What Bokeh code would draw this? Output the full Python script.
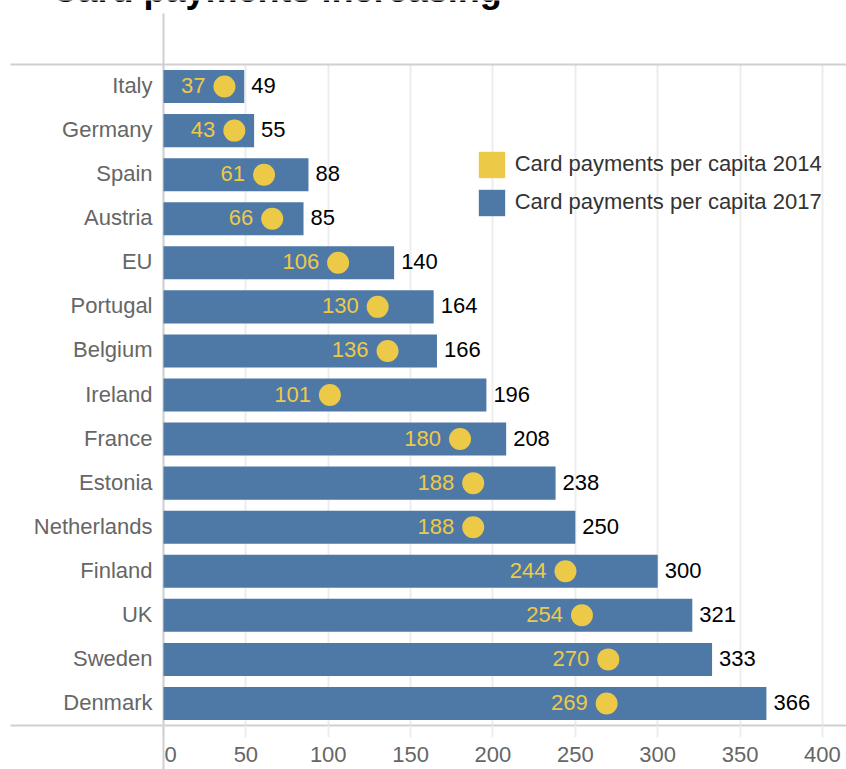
from bokeh.plotting import figure
from bokeh.models import (ColumnDataSource, Range1d, FixedTicker, Grid,
                          Legend, LegendItem, Label)
from bokeh.core.properties import value
from bokeh.embed import file_html
from bokeh.resources import INLINE

# ---- data ----
countries = ["Italy", "Germany", "Spain", "Austria", "EU", "Portugal", "Belgium",
             "Ireland", "France", "Estonia", "Netherlands", "Finland", "UK",
             "Sweden", "Denmark"]
pay_2014 = [37, 43, 61, 66, 106, 130, 136, 101, 180, 188, 188, 244, 254, 270, 269]
pay_2017 = [49, 55, 88, 85, 140, 164, 166, 196, 208, 238, 250, 300, 321, 333, 366]
x_ticks = [0, 50, 100, 150, 200, 250, 300, 350, 400]
title_text = "Card payments increasing"
legend_labels = ["Card payments per capita 2014", "Card payments per capita 2017"]

# ---- style ----
BLUE = "#4e79a7"
YELLOW = "#edc948"
AXIS = "#d0d0d0"
GRID = "#ededed"
FONT = "Liberation Sans"

n = len(countries)
rows = list(range(n))
src = ColumnDataSource(dict(
    y=rows, country=countries, p14=pay_2014, p17=pay_2017,
    l14=[str(v) for v in pay_2014], l17=[str(v) for v in pay_2017]))

# geometry of the frame (whole canvas width, down to the bottom axis)
W, H, BOTTOM = 846, 769, 44
PX_PER_UNIT = 683 / 414.6
x_start = -163 / PX_PER_UNIT
x_end = 414.6
x_rule_left = x_start + 10 / PX_PER_UNIT
ROW_PX = 661 / n
y_top = -0.5 - 64 / ROW_PX
y_line_top = y_top + 13 / ROW_PX

p = figure(width=W, height=H, output_backend="svg", toolbar_location=None,
           x_range=Range1d(x_start, x_end), y_range=Range1d(n - 0.5, y_top),
           y_axis_location=None, title=None)
p.min_border = 0
p.min_border_bottom = BOTTOM
p.outline_line_color = None
p.background_fill_color = "white"
p.border_fill_color = "white"
p.ygrid.visible = False

# bottom axis
xt = FixedTicker(ticks=x_ticks, minor_ticks=[0])
xa = p.xaxis[0]
xa.ticker = xt
xa.bounds = (x_rule_left, x_end)
xa.axis_line_color = AXIS
xa.axis_line_width = 2
xa.major_tick_in = 0
xa.major_tick_out = 12
xa.major_tick_line_color = GRID
xa.major_tick_line_width = 2
xa.minor_tick_in = 0
xa.minor_tick_out = 44
xa.minor_tick_line_color = AXIS
xa.minor_tick_line_width = 2
xa.major_label_standoff = 16 - 44
xa.major_label_text_font = FONT
xa.major_label_text_font_size = "22px"
xa.major_label_text_color = "#666666"
xa.major_label_overrides = {0: "\u2007\u200a0"}

# light vertical grid lines across the rows
grid = p.xgrid[0]
grid.ticker = xt
grid.bounds = (1, x_end)
grid.cross_bounds = (-0.5, n - 0.5)
grid.grid_line_color = GRID
grid.grid_line_width = 2

# zero line (value axis) and the top rule line
p.add_layout(Grid(dimension=0, ticker=FixedTicker(ticks=[0]),
                  bounds=(x_start, x_end), cross_bounds=(y_line_top, n - 0.5),
                  grid_line_color=AXIS, grid_line_width=2))
p.add_layout(Grid(dimension=1, ticker=FixedTicker(ticks=[-0.5]),
                  bounds=(y_top, n - 0.5), cross_bounds=(x_rule_left, x_end),
                  grid_line_color=AXIS, grid_line_width=2))

# bars and dots
bars = p.hbar(y="y", left=0, right="p17", height=0.75, source=src,
              fill_color=BLUE, line_color=None)
dots_key = p.hbar(y="y", left=0, right="p14", height=0, source=src,
                  fill_color=YELLOW, line_color=None)
p.scatter(x="p14", y="y", source=src, size=22, marker="circle",
          fill_color=YELLOW, line_color=None)

# category labels, value labels
p.text(x=0, y="y", text="country", source=src, x_offset=-11, y_offset=-1,
       text_align="right", text_baseline="middle", text_font=value(FONT),
       text_font_size="22px", text_color="#666666")
p.text(x="p17", y="y", text="l17", source=src, x_offset=7, y_offset=-1,
       text_align="left", text_baseline="middle", text_font=value(FONT),
       text_font_size="22px", text_color="black")
p.text(x="p14", y="y", text="l14", source=src, x_offset=-19, y_offset=-1,
       text_align="right", text_baseline="middle", text_font=value(FONT),
       text_font_size="22px", text_color=YELLOW)

# legend
legend = Legend(items=[LegendItem(label=legend_labels[0], renderers=[dots_key]),
                       LegendItem(label=legend_labels[1], renderers=[bars])],
                location=(474.7, 506.5), glyph_width=33, glyph_height=33,
                label_standoff=7, spacing=5, padding=0, margin=0,
                border_line_color=None, background_fill_alpha=0,
                label_text_font=FONT, label_text_font_size="22px",
                label_text_color="#333333")
p.add_layout(legend)

# title (partly cut off at top, as in the reference)
p.add_layout(Label(x=51, y=736, x_units="screen", y_units="screen",
                   text=title_text, text_font=FONT, text_font_size="36px",
                   text_font_style="bold", text_color="black",
                   text_baseline="alphabetic", text_align="left"))

open("out.html", "w").write(file_html(p, INLINE))
